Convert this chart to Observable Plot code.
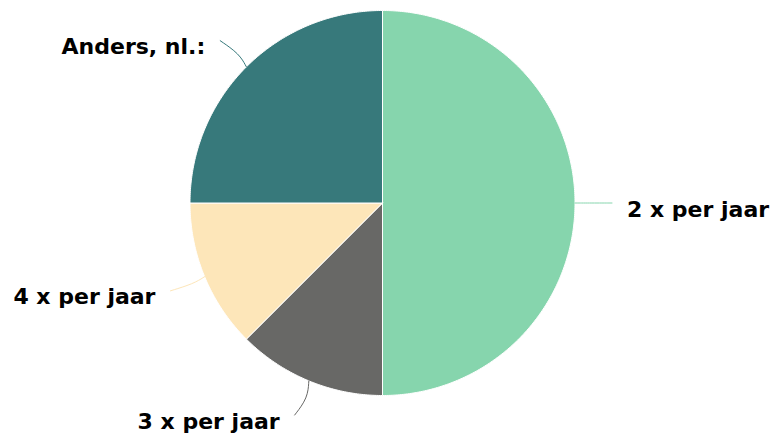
<!DOCTYPE html>
<html>
<head>
<meta charset="utf-8">
<script src="https://cdn.jsdelivr.net/npm/d3@7"></script>
<script src="https://cdn.jsdelivr.net/npm/@observablehq/plot@0.6"></script>
<style>
  html, body { margin: 0; padding: 0; background: #fff; }
  #chart svg { display: block; }
</style>
</head>
<body>
<div id="chart"></div>
<script>
const categories = ["2 x per jaar", "3 x per jaar", "4 x per jaar", "Anders, nl.:"];
const values = [50, 12.5, 12.5, 25];
const colors = ["#86d5ad", "#686866", "#fde6b9", "#37797b"];

const W = 775, H = 435;
const cx = 382, cy = 202.5, R = 192.5, labelR = 229.5;

const arcs = d3.pie().sort(null)(values);
const polar = (r, a) => ({x: r * Math.sin(a), y: -r * Math.cos(a)});

const slices = [];
const leaders = [];
const labels = [];
arcs.forEach((a, i) => {
  const cat = categories[i], color = colors[i];
  slices.push({cat, color, ...polar(0, 0)});
  const n = Math.max(2, Math.ceil((a.endAngle - a.startAngle) / 0.01));
  for (let k = 0; k <= n; k++) {
    const t = a.startAngle + (a.endAngle - a.startAngle) * k / n;
    slices.push({cat, color, ...polar(R, t)});
  }
  slices.push({cat, color, ...polar(0, 0)});

  const mid = (a.startAngle + a.endAngle) / 2;
  const E = polar(R, mid), L = polar(labelR, mid);
  const side = Math.sin(mid) >= 0 ? 1 : -1;
  const M = {x: (E.x + L.x) / 2 - side * 6, y: (E.y + L.y) / 2};
  leaders.push({cat, color, ...L}, {cat, color, ...M}, {cat, color, ...E});
  labels.push({cat, side, x: L.x + side * 15, y: L.y});
});

const chart = Plot.plot({
  width: W,
  height: H,
  margin: 0,
  x: {domain: [-cx, W - cx], range: [0, W], axis: null},
  y: {domain: [-cy, H - cy], range: [0, H], axis: null},
  color: {type: "identity"},
  style: {fontFamily: "DejaVu Sans", background: "white"},
  marks: [
    Plot.line(slices, {x: "x", y: "y", z: "cat", fill: "color", stroke: "white", strokeWidth: 1, curve: "linear"}),
    Plot.line(leaders, {x: "x", y: "y", z: "cat", stroke: "color", strokeWidth: 1, curve: "basis"}),
    Plot.text(labels.filter(d => d.side > 0), {x: "x", y: "y", text: "cat", textAnchor: "start", lineAnchor: "top", dy: -2, fontSize: 22, fontWeight: "bold", fill: "black"}),
    Plot.text(labels.filter(d => d.side < 0), {x: "x", y: "y", text: "cat", textAnchor: "end", lineAnchor: "top", dy: -2, fontSize: 22, fontWeight: "bold", fill: "black"})
  ]
});
document.getElementById("chart").appendChild(chart);
</script>
</body>
</html>
